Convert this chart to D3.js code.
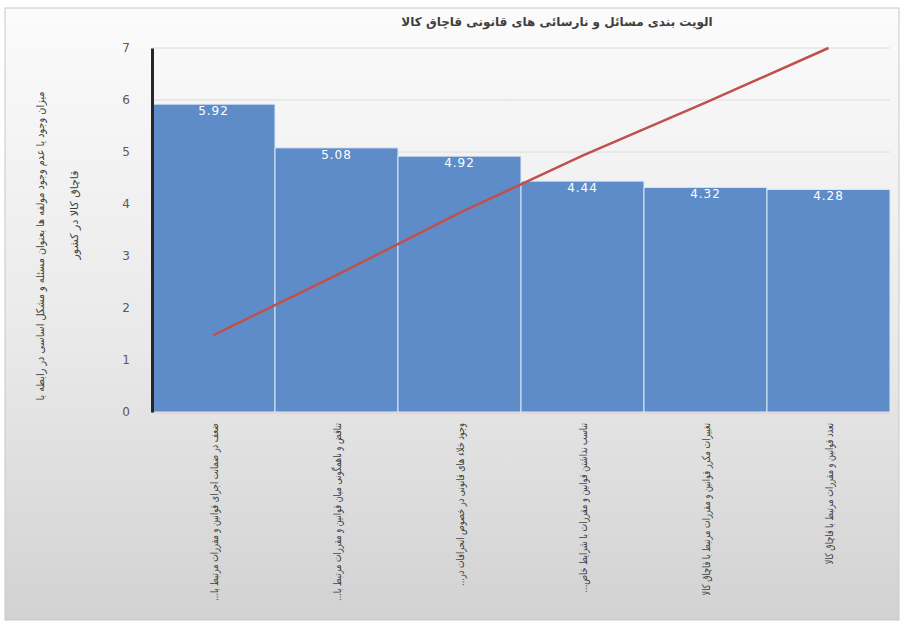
<!DOCTYPE html>
<html>
<head>
  <meta charset="utf-8">
  <title>الویت بندی مسائل</title>
  <style>
    body { margin: 0; background: #fff; }
    text { font-family: "DejaVu Sans", "Noto Sans", sans-serif; }
  </style>
</head>
<body>
  <div id="chart"></div>

  <script src="https://d3js.org/d3.v7.min.js"></script>
  <script>
    // داده ها
    const categories = [
      "ضعف در ضمانت اجرای قوانین و مقررات مرتبط با...",
      "تناقض و ناهمگونی میان قوانین و مقررات مرتبط با...",
      "وجود خلاء های قانونی در خصوص انحرافات در...",
      "تناسب نداشتن قوانین و مقررات با شرایط خاص...",
      "تغییرات مکرر قوانین و مقررات مرتبط با قاچاق کالا",
      "تعدد قوانین و مقررات مرتبط با قاچاق کالا"
    ];
    const barValues = [5.92, 5.08, 4.92, 4.44, 4.32, 4.28];
    const lineValues = [1.48, 2.63, 3.83, 4.93, 5.95, 7.0];
    const yTicks = [0, 1, 2, 3, 4, 5, 6, 7];
    const title = "الویت بندی مسائل و نارسائی های قانونی قاچاق کالا";
    const yLabel = [
      "میزان وجود یا عدم وجود مولفه ها بعنوان مسئله و مشکل اساسی در رابطه با",
      "قاچاق کالا در کشور"
    ];

    const width = 904, height = 627;
    const margin = { top: 48, right: 14, bottom: 215, left: 152 };

    const svg = d3.select("#chart")
      .append("svg")
      .attr("width", width)
      .attr("height", height);

    // پس زمینه
    const grad = svg.append("defs").append("linearGradient")
      .attr("id", "bg").attr("x1", 0).attr("y1", 0).attr("x2", 0).attr("y2", 1);
    grad.append("stop").attr("offset", "0%").attr("stop-color", "#fbfbfb");
    grad.append("stop").attr("offset", "55%").attr("stop-color", "#e9e9e9");
    grad.append("stop").attr("offset", "100%").attr("stop-color", "#d2d2d2");

    svg.append("rect")
      .attr("x", 5).attr("y", 8)
      .attr("width", 894).attr("height", 612)
      .attr("fill", "url(#bg)")
      .attr("stroke", "#c8c8c8");

    const x = d3.scaleBand()
      .domain(categories)
      .range([margin.left, width - margin.right])
      .padding(0);

    const y = d3.scaleLinear()
      .domain([0, 7])
      .range([height - margin.bottom, margin.top]);

    // خطوط شبکه
    svg.append("g")
      .selectAll("line")
      .data(yTicks.slice(1))
      .enter()
      .append("line")
      .attr("x1", margin.left).attr("x2", width - margin.right)
      .attr("y1", d => y(d)).attr("y2", d => y(d))
      .attr("stroke", "#dcdcdc")
      .attr("stroke-width", 1);

    // ستون ها
    svg.append("g")
      .selectAll("rect")
      .data(barValues)
      .enter()
      .append("rect")
      .attr("x", (d, i) => x(categories[i]))
      .attr("y", d => y(d))
      .attr("width", x.bandwidth())
      .attr("height", d => y(0) - y(d))
      .attr("fill", "#5e8cc8")
      .attr("stroke", "#dce9f7")
      .attr("stroke-width", 1);

    // برچسب مقادیر
    svg.append("g")
      .selectAll("text")
      .data(barValues)
      .enter()
      .append("text")
      .attr("x", (d, i) => x(categories[i]) + x.bandwidth() / 2)
      .attr("y", d => y(d) + 11)
      .attr("text-anchor", "middle")
      .attr("fill", "#ffffff")
      .style("font-size", "12px")
      .style("letter-spacing", "1px")
      .text(d => d.toFixed(2));

    // محور افقی
    svg.append("line")
      .attr("x1", margin.left).attr("x2", width - margin.right)
      .attr("y1", y(0) + 1).attr("y2", y(0) + 1)
      .attr("stroke", "#e8c8c8");

    // محور عمودی
    const yAxis = svg.append("g")
      .attr("transform", `translate(${margin.left},0)`)
      .call(d3.axisLeft(y).tickValues(yTicks).tickFormat(d3.format("d")).tickSize(0).tickPadding(22));
    yAxis.select(".domain").attr("stroke", "#262626").attr("stroke-width", 3);
    yAxis.selectAll("text")
      .attr("fill", "#595959")
      .style("font-size", "12px");

    // خط قرمز
    const line = d3.line()
      .x((d, i) => x(categories[i]) + x.bandwidth() / 2)
      .y(d => y(d));

    svg.append("path")
      .datum(lineValues)
      .attr("d", line)
      .attr("fill", "none")
      .attr("stroke", "#c0504d")
      .attr("stroke-width", 2.5);

    // برچسب های افقی
    svg.append("g")
      .selectAll("text")
      .data(categories)
      .enter()
      .append("text")
      .attr("transform", d => `translate(${x(d) + x.bandwidth() / 2 + 4},${y(0) + 11}) rotate(-90) scale(0.74,1)`)
      .attr("direction", "rtl")
      .attr("text-anchor", "start")
      .attr("fill", "#404040")
      .style("font-size", "11px")
      .text(d => d);

    // عنوان
    svg.append("text")
      .attr("x", 557)
      .attr("y", 26)
      .attr("text-anchor", "middle")
      .attr("fill", "#404040")
      .style("font-size", "12px")
      .style("font-weight", "bold")
      .text(title);

    // عنوان محور عمودی
    svg.append("text")
      .attr("transform", "translate(44,246) rotate(-90) scale(0.88,1)")
      .attr("direction", "rtl")
      .attr("text-anchor", "middle")
      .attr("fill", "#404040")
      .style("font-size", "11px")
      .text(yLabel[0]);
    svg.append("text")
      .attr("transform", "translate(78,215) rotate(-90)")
      .attr("direction", "rtl")
      .attr("text-anchor", "middle")
      .attr("fill", "#404040")
      .style("font-size", "11px")
      .text(yLabel[1]);
  </script>
</body>
</html>
